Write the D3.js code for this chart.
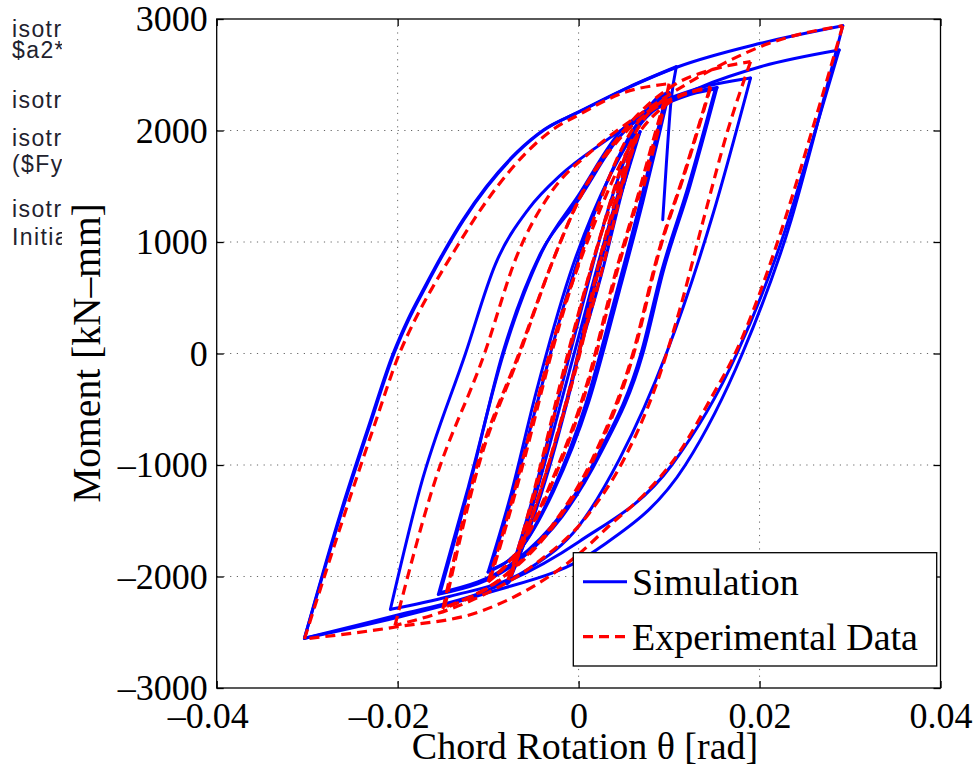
<!DOCTYPE html>
<html>
<head>
<meta charset="utf-8">
<script src="https://cdn.jsdelivr.net/npm/d3@7"></script>
<style>
  html, body { margin: 0; padding: 0; background: #fff; }
  svg { display: block; }
</style>
</head>
<body>
<svg id="chart" width="975" height="768"></svg>
<script>
// ---------------- DATA ----------------
const xTicks = [-0.04, -0.02, 0, 0.02, 0.04];
const xTickLabels = ["\u20130.04", "\u20130.02", "0", "0.02", "0.04"];
const yTicks = [-3000, -2000, -1000, 0, 1000, 2000, 3000];
const yTickLabels = ["\u20133000", "\u20132000", "\u20131000", "0", "1000", "2000", "3000"];
const xTitle = "Chord Rotation \u03b8 [rad]";
const yTitle = "Moment [kN\u2013mm]";
const legendLabels = ["Simulation", "Experimental Data"];
const sideNotes = ["isotropic", "$a2*", "isotropic", "isotropic", "($Fy", "isotropic", "Initial"];

// Simulation: loading / unloading branches [rotation rad, moment kN-mm]
const simBranches = [
  [[0,0],[0.0025,700],[0.0048,1450],[0.0065,1950]],
  [[0.0065,1950],[0.0042,1350],[0.0018,650],[-0.0008,-250],[-0.0038,-1150],[-0.006,-1700],[-0.0077,-2050]],
  [[-0.0077,-2050],[-0.0052,-1400],[-0.0028,-700],[0,150],[0.003,1050],[0.0052,1650],[0.0068,1990]],
  [[0.0068,1990],[0.0045,1380],[0.002,680],[-0.0006,-220],[-0.0036,-1120],[-0.0061,-1720],[-0.0079,-2065]],
  [[-0.0079,-2065],[-0.0056,-1450],[-0.003,-650],[0,300],[0.0033,1300],[0.0064,2004],[0.0085,2280],[0.0097,2334]],
  [[0.0097,2334],[0.0086,1950],[0.0068,1350],[0.0042,550],[0.0008,-450],[-0.003,-1250],[-0.0065,-1760],[-0.0098,-1942]],
  [[-0.0098,-1942],[-0.0074,-1300],[-0.0046,-450],[-0.0012,550],[0.0032,1550],[0.0068,2100],[0.0100,2340]],
  [[0.0100,2340],[0.0089,1960],[0.0071,1360],[0.0045,560],[0.0011,-440],[-0.0028,-1240],[-0.0064,-1750],[-0.0100,-1960]],
  [[-0.0100,-1960],[-0.0076,-1300],[-0.0047,-350],[-0.001,700],[0.0035,1600],[0.0075,2120],[0.0115,2300],[0.0151,2372]],
  [[0.0151,2372],[0.0121,1496],[0.0092,745],[0.0069,0],[0.0022,-900],[-0.002,-1450],[-0.007,-1860],[-0.0153,-2145]],
  [[-0.0153,-2145],[-0.0121,-1200],[-0.0084,0],[-0.0042,900],[0,1380],[0.0046,1950],[0.0085,2210],[0.0153,2385]],
  [[0.0153,2385],[0.0123,1500],[0.0094,750],[0.0071,0],[0.0024,-900],[-0.0018,-1460],[-0.0068,-1870],[-0.0155,-2160]],
  [[-0.0155,-2160],[-0.0122,-1200],[-0.0083,0],[-0.004,920],[0,1420],[0.0046,1990],[0.0085,2230],[0.0125,2360],[0.019,2470]],
  [[0.019,2470],[0.0148,1235],[0.0097,0],[0.0045,-950],[0,-1550],[-0.0055,-1930],[-0.0143,-2180],[-0.0208,-2294]],
  [[-0.0208,-2294],[-0.0175,-1200],[-0.0125,0],[-0.0092,800],[-0.0055,1300],[-0.002,1600],[0.0025,1880],[0.008,2170],[0.0135,2390],[0.0201,2572],[0.0288,2722]],
  [[0.0288,2722],[0.0258,1900],[0.0228,1100],[0.0175,0],[0.0103,-1000],[0,-1690],[-0.0106,-2140],[-0.0202,-2350],[-0.0303,-2554]],
  [[-0.0303,-2554],[-0.0262,-1400],[-0.0232,-650],[-0.0205,0],[-0.0189,300],[-0.0170,599],[-0.0150,898],[-0.0128,1197],[-0.0102,1496],[-0.0069,1800],[-0.0038,2010],[0,2165],[0.0055,2385],[0.011,2572],[0.0201,2782],[0.0292,2940]],
  [[0.0292,2940],[0.0262,2000],[0.0235,1200],[0.0181,0],[0.0118,-1000],[0.002,-1760],[-0.0106,-2160],[-0.0202,-2370],[-0.0303,-2554]],
  [[-0.0303,-2554],[-0.0261,-1400],[-0.0231,-650],[-0.0204,0],[-0.0188,300],[-0.0169,599],[-0.0149,898],[-0.0127,1197],[-0.0101,1496],[-0.0068,1800],[-0.0037,2010],[0,2167],[0.0055,2388],[0.0108,2572]],
  [[0.0108,2572],[0.0102,2250],[0.0097,1700],[0.0093,1200]]
];

// Experimental data branches [rotation rad, moment kN-mm]
const expBranches = [
  [[0,0],[0.0025,720],[0.0047,1450],[0.0062,1930]],
  [[0.0062,1930],[0.0045,1500],[0.0025,900],[0,0],[-0.003,-900],[-0.0055,-1550],[-0.0075,-2000]],
  [[-0.0075,-2000],[-0.006,-1600],[-0.004,-1000],[-0.0015,-150],[0.0015,800],[0.0045,1550],[0.0066,1970]],
  [[0.0066,1970],[0.0048,1520],[0.0027,920],[0.0002,20],[-0.0029,-880],[-0.0056,-1570],[-0.0078,-2030]],
  [[-0.0078,-2030],[-0.0062,-1620],[-0.0042,-1000],[-0.0015,-100],[0.0022,1000],[0.0058,1900],[0.008,2180],[0.0095,2273]],
  [[0.0095,2273],[0.0082,1900],[0.0065,1400],[0.004,700],[0.001,-250],[-0.003,-1150],[-0.0066,-1750],[-0.0098,-2031]],
  [[-0.0098,-2031],[-0.0082,-1600],[-0.006,-950],[-0.003,0],[0.001,1050],[0.0055,1950],[0.0097,2290]],
  [[0.0097,2290],[0.0084,1920],[0.0067,1420],[0.0042,720],[0.0012,-230],[-0.0028,-1140],[-0.0066,-1760],[-0.0100,-2050]],
  [[-0.0100,-2050],[-0.0084,-1620],[-0.0062,-960],[-0.0032,0],[0.0012,1050],[0.006,1900],[0.010,2250],[0.0145,2378]],
  [[0.0145,2378],[0.0118,1650],[0.0088,900],[0.006,0],[0.0015,-950],[-0.003,-1550],[-0.008,-1980],[-0.0148,-2276]],
  [[-0.0148,-2276],[-0.011,-991],[-0.0065,0],[-0.003,800],[0.0005,1450],[0.0048,1950],[0.009,2230],[0.0146,2390]],
  [[0.0146,2390],[0.0119,1660],[0.0089,910],[0.0061,0],[0.0016,-960],[-0.0029,-1560],[-0.0082,-2000],[-0.0150,-2290]],
  [[-0.0150,-2290],[-0.0112,-1000],[-0.0066,0],[-0.003,800],[0.0005,1460],[0.005,2000],[0.011,2430],[0.0145,2540],[0.019,2617]],
  [[0.019,2617],[0.0165,2004],[0.0138,1200],[0.0112,400],[0.0085,-300],[0.005,-950],[0.001,-1450],[-0.005,-1900],[-0.012,-2220],[-0.0203,-2440]],
  [[-0.0203,-2440],[-0.0161,-1200],[-0.0104,0],[-0.0068,880],[-0.003,1450],[0.0015,1820],[0.0065,2130],[0.012,2420],[0.016,2600],[0.021,2780],[0.0292,2940]],
  [[0.0292,2940],[0.0258,2000],[0.0228,1200],[0.0173,0],[0.0147,-391],[0.011,-901],[0.0073,-1260],[0.0036,-1529],[0,-1800],[-0.0106,-2306],[-0.0202,-2453],[-0.0303,-2560]],
  [[-0.0303,-2560],[-0.0257,-1400],[-0.0226,-650],[-0.0198,0],[-0.0181,300],[-0.0161,599],[-0.0139,898],[-0.0116,1197],[-0.0090,1496],[-0.0058,1800],[-0.0030,2000],[0,2140],[0.005,2340],[0.0100,2420]],
  [[0.0100,2420],[0.0095,2226],[0.0085,1900],[0.0072,1500]]
];

// ---------------- DRAW ----------------
const svg = d3.select("#chart");
const L = 216.7, R = 940.5, T = 19, B = 688;
const x = d3.scaleLinear().domain([-0.04, 0.04]).range([L, R]);
const y = d3.scaleLinear().domain([-3000, 3000]).range([B, T]);
const serif = "'Liberation Serif', 'Times New Roman', serif";

const defs = svg.append("defs");
defs.append("clipPath").attr("id", "noteclip")
  .append("rect").attr("x", 0).attr("y", 0).attr("width", 62).attr("height", 768);
defs.append("clipPath").attr("id", "plotclip")
  .append("rect").attr("x", L).attr("y", T).attr("width", R - L).attr("height", B - T);

// side notes (cut off at the left edge of the figure, as in the reference)
const noteY = [37, 58, 108, 146, 172, 217, 245];
svg.append("g").attr("clip-path", "url(#noteclip)")
  .selectAll("text").data(sideNotes).join("text")
  .attr("x", 12).attr("y", (d, i) => noteY[i])
  .attr("font-family", "'Liberation Sans', Arial, sans-serif")
  .attr("font-size", 23).attr("letter-spacing", 1.4).attr("fill", "#22222e")
  .text(d => d);

// grid
const grid = svg.append("g");
grid.selectAll("line.gx").data(xTicks.slice(1, -1)).join("line")
  .attr("x1", d => x(d)).attr("x2", d => x(d)).attr("y1", T).attr("y2", B)
  .attr("stroke", "#666").attr("stroke-width", 1).attr("stroke-dasharray", "1.2,5.5");
grid.selectAll("line.gy").data(yTicks.slice(1, -1)).join("line")
  .attr("x1", L).attr("x2", R).attr("y1", d => y(d)).attr("y2", d => y(d))
  .attr("stroke", "#666").attr("stroke-width", 1).attr("stroke-dasharray", "1.2,5.5");

// curves
const line = d3.line().x(d => x(d[0])).y(d => y(d[1])).curve(d3.curveMonotoneX);
const plot = svg.append("g").attr("clip-path", "url(#plotclip)");
plot.append("g").selectAll("path").data(simBranches).join("path")
  .attr("d", line).attr("fill", "none").attr("stroke", "#0000ff")
  .attr("stroke-width", 3).attr("stroke-linejoin", "round").attr("stroke-linecap", "round");
plot.append("g").selectAll("path").data(expBranches).join("path")
  .attr("d", line).attr("fill", "none").attr("stroke", "#ff0000")
  .attr("stroke-width", 3.2).attr("stroke-dasharray", "10,6");

// axes
const fmtX = d => xTickLabels[xTicks.indexOf(d)];
const fmtY = d => yTickLabels[yTicks.indexOf(d)];
const ax = svg.append("g").attr("transform", `translate(0,${B})`)
  .call(d3.axisBottom(x).tickValues(xTicks).tickFormat(fmtX).tickSize(-7).tickPadding(14));
const ay = svg.append("g").attr("transform", `translate(${L},0)`)
  .call(d3.axisLeft(y).tickValues(yTicks).tickFormat(fmtY).tickSize(-7).tickPadding(9));
const at = svg.append("g").attr("transform", `translate(0,${T})`)
  .call(d3.axisTop(x).tickValues(xTicks).tickFormat("").tickSize(-7));
const ar = svg.append("g").attr("transform", `translate(${R},0)`)
  .call(d3.axisRight(y).tickValues(yTicks).tickFormat("").tickSize(-7));
[ax, ay, at, ar].forEach(g => {
  g.select(".domain").remove();
  g.selectAll(".tick line").attr("stroke", "#000").attr("stroke-width", 1.3);
  g.selectAll("text").attr("font-family", serif).attr("font-size", 36).attr("fill", "#000");
});
// negative x labels are centred on their digits (minus sign hangs left)
ax.selectAll(".tick text").attr("dx", d => d < 0 ? "-0.25em" : null);
svg.append("rect").attr("x", L).attr("y", T).attr("width", R - L).attr("height", B - T)
  .attr("fill", "none").attr("stroke", "#000").attr("stroke-width", 1.3);

// titles
svg.append("text").attr("x", 585).attr("y", 759).attr("text-anchor", "middle")
  .attr("font-family", serif).attr("font-size", 38).text(xTitle);
svg.append("text").attr("transform", "translate(100,353) rotate(-90)").attr("text-anchor", "middle")
  .attr("font-family", serif).attr("font-size", 39.5).text(yTitle);

// legend
const lg = svg.append("g");
lg.append("rect").attr("x", 573.3).attr("y", 552.7).attr("width", 363.4).attr("height", 113.3)
  .attr("fill", "#fff").attr("stroke", "#000").attr("stroke-width", 1.3);
const legY = [581.7, 636.7];
lg.append("line").attr("x1", 583).attr("x2", 627).attr("y1", legY[0]).attr("y2", legY[0])
  .attr("stroke", "#0000ff").attr("stroke-width", 3);
lg.append("line").attr("x1", 583).attr("x2", 627).attr("y1", legY[1]).attr("y2", legY[1])
  .attr("stroke", "#ff0000").attr("stroke-width", 3.2).attr("stroke-dasharray", "10,6");
lg.selectAll("text").data(legendLabels).join("text")
  .attr("x", 632).attr("y", (d, i) => legY[i] + 13.5)
  .attr("font-family", serif).attr("font-size", 38).text(d => d);
</script>
</body>
</html>
